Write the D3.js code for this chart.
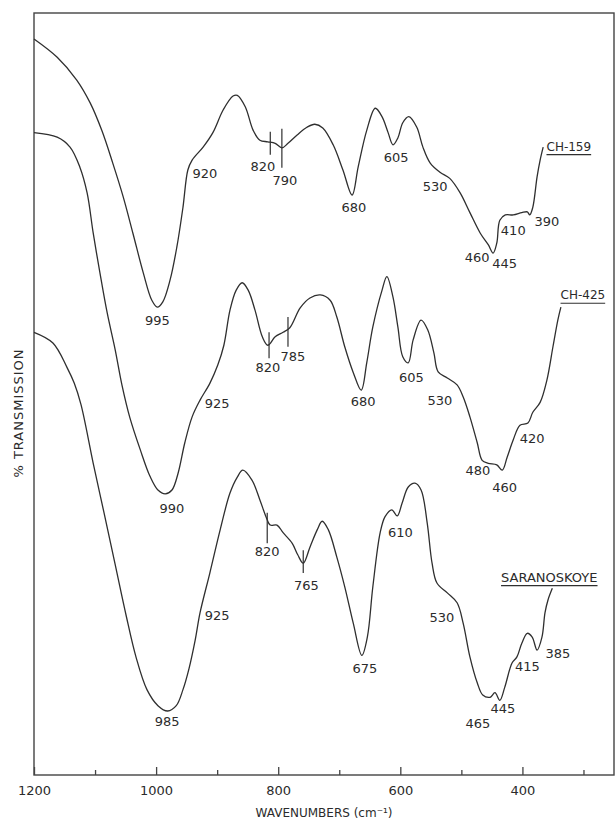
<!doctype html>
<html>

<head>
    <meta charset="utf-8">
    <script src="https://cdnjs.cloudflare.com/ajax/libs/d3/7.8.5/d3.min.js"></script>
    <style>
        body {
            margin: 0;
            background: #fff;
        }

        svg {
            display: block;
        }

        text {
            font-family: "DejaVu Sans", sans-serif;
            fill: #2b2b2b;
        }
    </style>
    <title>IR spectra</title>
</head>

<body>
    <svg width="615" height="822"></svg>

    <script>
        // [wavenumber cm-1, % transmission]
        var ch159 = [[1200, 96.6], [1162, 94.2], [1130, 91.2], [1108, 88.2], [1089, 84.6], [1071, 80.3], [1054, 75.9],
            [1038, 71.1], [1021, 65.9], [1007, 62.3], [998, 61.4], [989, 62.1], [977, 65.0], [966, 69.3], [956, 74.5],
            [948, 79.4], [941, 80.7], [923, 82.4], [907, 84.3], [890, 87.3], [874, 89.1], [867, 89.2], [854, 87.7],
            [841, 84.6], [830, 83.3], [817, 83.1], [805, 82.9], [794, 82.3], [784, 82.9], [769, 84.0], [753, 85.0],
            [740, 85.4], [727, 84.9], [710, 82.7], [694, 79.4], [679, 76.1], [669, 79.8], [655, 84.6], [641, 87.5],
            [630, 86.4], [620, 84.3], [612, 82.7], [604, 83.6], [596, 85.6], [586, 86.4], [573, 85.0], [563, 82.4],
            [551, 80.3], [535, 79.1], [519, 78.3], [502, 76.4], [486, 73.8], [469, 71.1], [456, 69.6], [448, 68.5],
            [442, 69.8], [437, 72.8], [428, 73.5], [415, 73.5], [401, 73.8], [392, 73.9], [388, 73.5], [383, 74.5],
            [376, 78.5], [371, 80.7], [366, 82.4]];

        var ch425 = [[1200, 84.3], [1162, 83.7], [1141, 82.4], [1125, 79.8], [1113, 76.4], [1103, 71.1], [1092, 65.9],
            [1080, 60.6], [1067, 55.8], [1056, 51.2], [1043, 46.9], [1026, 42.7], [1010, 39.2], [997, 37.4], [985, 36.9],
            [974, 37.4], [964, 39.6], [953, 43.6], [941, 47.0], [928, 49.2], [912, 51.4], [899, 53.8], [889, 56.4],
            [879, 61.0], [869, 63.6], [859, 64.6], [849, 63.6], [838, 61.0], [826, 57.5], [817, 56.4], [805, 57.5],
            [792, 58.1], [781, 58.7], [764, 61.3], [748, 62.6], [731, 63.0], [715, 62.3], [704, 60.1], [691, 56.2],
            [677, 52.8], [664, 50.5], [655, 54.1], [645, 58.8], [630, 63.6], [622, 65.4], [612, 62.7], [604, 58.8],
            [596, 54.9], [587, 54.1], [579, 57.1], [566, 59.7], [555, 58.4], [545, 55.4], [538, 52.9], [523, 52.1],
            [507, 51.2], [497, 49.6], [486, 47.0], [474, 43.6], [466, 41.3], [456, 40.9], [442, 40.7], [433, 40.0],
            [425, 41.7], [415, 44.0], [404, 45.9], [391, 46.2], [383, 47.6], [371, 48.9], [360, 51.8], [350, 56.2],
            [342, 59.7], [337, 61.4]];

        var saranoskoye = [[1200, 58.1], [1169, 56.7], [1146, 53.5], [1134, 51.4], [1123, 48.6], [1103, 40.9],
            [1085, 34.3], [1067, 27.6], [1049, 20.9], [1033, 15.5], [1015, 11.2], [997, 9.1], [981, 8.4], [967, 9.1],
            [956, 11.2], [946, 14.0], [936, 17.7], [928, 21.3], [912, 26.5], [895, 32.2], [879, 37.0], [867, 39.1],
            [858, 40.0], [843, 38.7], [830, 36.1], [820, 33.9], [813, 32.8], [802, 32.8], [792, 31.8], [777, 30.4],
            [768, 28.9], [759, 27.8], [748, 29.9], [736, 32.2], [728, 33.3], [718, 32.2], [704, 28.6], [691, 24.7],
            [677, 19.9], [663, 15.7], [654, 18.1], [645, 24.7], [633, 31.8], [625, 33.9], [614, 34.8], [605, 34.0],
            [597, 35.7], [587, 37.8], [576, 38.3], [566, 37.4], [556, 33.1], [548, 27.8], [540, 25.2], [523, 23.9],
            [507, 22.6], [497, 19.9], [486, 15.5], [474, 12.1], [465, 10.5], [453, 10.2], [445, 10.8], [437, 9.8],
            [429, 11.5], [417, 14.7], [409, 15.5], [401, 17.3], [392, 18.6], [384, 18.1], [376, 16.4], [368, 18.1],
            [363, 21.3], [358, 23.0], [351, 24.5]];

        // band labels [wavenumber, transmission, text]
        var ch159Bands = [[998, 59.7, "995"], [920, 78.9, "920"], [825, 79.9, "820"], [789, 78.1, "790"],
            [676, 74.5, "680"], [607, 81.0, "605"], [543, 77.2, "530"], [474, 68.0, "460"], [429, 67.1, "445"],
            [415, 71.5, "410"], [360, 72.7, "390"]];
        var ch425Bands = [[974, 35.0, "990"], [900, 48.8, "925"], [817, 53.5, "820"], [776, 55.0, "785"],
            [661, 49.0, "680"], [582, 52.2, "605"], [535, 49.2, "530"], [473, 40.0, "480"], [429, 37.8, "460"],
            [384, 44.2, "420"]];
        var saranBands = [[982, 7.0, "985"], [900, 21.0, "925"], [818, 29.3, "820"], [754, 24.9, "765"],
            [600, 31.8, "610"], [658, 14.0, "675"], [532, 20.7, "530"], [473, 6.8, "465"], [432, 8.7, "445"],
            [392, 14.2, "415"], [342, 16.0, "385"]];

        // small vertical band markers [wavenumber, top, bottom]
        var bandMarks = [[813, 84.4, 81.4], [794, 84.8, 79.7], [815, 58.1, 54.7], [784, 60.1, 56.2],
            [818, 34.4, 30.4], [759, 29.5, 26.5]];

        var sampleNames = [[324, 82.5, "CH-159"], [301, 63.0, "CH-425"], [356, 26.0, "SARANOSKOYE"]];

        var xTicks = [1200, 1100, 1000, 900, 800, 700, 600, 500, 400, 300];
        var xTickLabels = [1200, 1000, 800, 600, 400];

        var svg = d3.select("svg"),
            plotLeft = 34, plotRight = 614, plotTop = 13, plotBottom = 775;

        var xScale = d3.scaleLinear().domain([1200, 250]).range([plotLeft, plotRight]),
            yScale = d3.scaleLinear().domain([0, 100]).range([plotBottom, plotTop]);

        var ink = "#2f2f2f";

        // frame
        svg.append("rect")
            .attr("x", plotLeft).attr("y", plotTop)
            .attr("width", plotRight - plotLeft).attr("height", plotBottom - plotTop)
            .attr("fill", "none").attr("stroke", "#444").attr("stroke-width", 1.4);

        // bottom axis, ticks pointing up
        var axis = svg.append("g")
            .attr("transform", "translate(0," + plotBottom + ")")
            .call(d3.axisBottom(xScale)
                .tickValues(xTicks)
                .tickSizeInner(-5)
                .tickSizeOuter(0)
                .tickPadding(11)
                .tickFormat(function (d) { return xTickLabels.indexOf(d) >= 0 ? d : ""; }));
        axis.select(".domain").remove();
        axis.selectAll(".tick line")
            .attr("stroke", "#444").attr("stroke-width", 1.3)
            .attr("y2", function (d) { return xTickLabels.indexOf(d) >= 0 ? -8 : -5; });
        axis.selectAll(".tick text")
            .attr("fill", ink).style("font-size", "13px").style("font-family", "DejaVu Sans");

        svg.append("text")
            .attr("x", (plotLeft + plotRight) / 2).attr("y", 817)
            .attr("text-anchor", "middle")
            .style("font-size", "12px")
            .text("WAVENUMBERS (cm⁻¹)");

        svg.append("text")
            .attr("transform", "translate(23,413) rotate(-90)")
            .attr("text-anchor", "middle")
            .style("font-size", "13px")
            .style("letter-spacing", "1px")
            .text("% TRANSMISSION");

        var line = d3.line()
            .x(function (d) { return xScale(d[0]); })
            .y(function (d) { return yScale(d[1]); })
            .curve(d3.curveCatmullRom.alpha(0.5));

        [ch159, ch425, saranoskoye].forEach(function (s) {
            svg.append("path")
                .datum(s)
                .attr("d", line)
                .attr("fill", "none")
                .attr("stroke", ink)
                .attr("stroke-width", 1.3);
        });

        svg.selectAll(".mark")
            .data(bandMarks)
            .enter().append("line")
            .attr("class", "mark")
            .attr("x1", function (d) { return xScale(d[0]); })
            .attr("x2", function (d) { return xScale(d[0]); })
            .attr("y1", function (d) { return yScale(d[1]); })
            .attr("y2", function (d) { return yScale(d[2]); })
            .attr("stroke", ink).attr("stroke-width", 1.2);

        svg.selectAll(".band")
            .data(ch159Bands.concat(ch425Bands, saranBands))
            .enter().append("text")
            .attr("class", "band")
            .attr("x", function (d) { return xScale(d[0]); })
            .attr("y", function (d) { return yScale(d[1]); })
            .attr("dy", "0.36em")
            .attr("text-anchor", "middle")
            .style("font-size", "13px")
            .text(function (d) { return d[2]; });

        // sample names, underlined
        sampleNames.forEach(function (d) {
            var t = svg.append("text")
                .attr("x", xScale(d[0]))
                .attr("y", yScale(d[1]))
                .attr("dy", "0.36em")
                .attr("text-anchor", "middle")
                .style("font-size", d[2].length > 8 ? "13px" : "12px")
                .text(d[2]);
            var b = t.node().getBBox();
            svg.append("line")
                .attr("x1", b.x).attr("x2", b.x + b.width)
                .attr("y1", b.y + b.height + 1).attr("y2", b.y + b.height + 1)
                .attr("stroke", ink).attr("stroke-width", 1.2);
        });
    </script>
</body>

</html>
